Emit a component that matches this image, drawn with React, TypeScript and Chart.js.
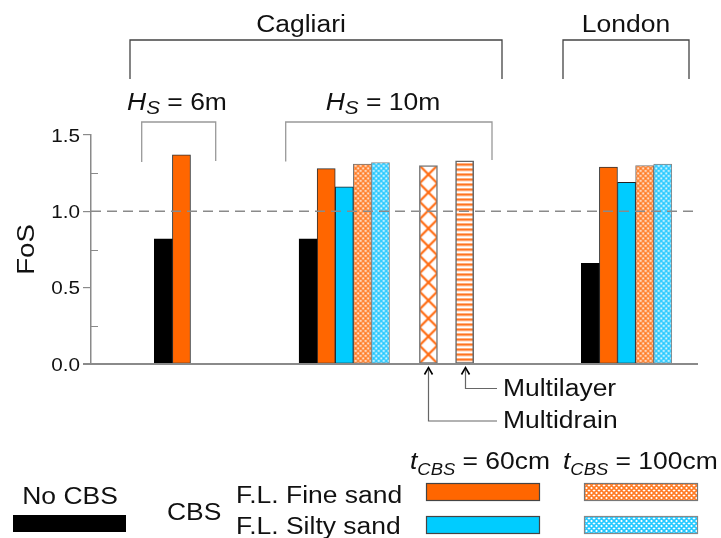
import React, { useEffect, useRef } from "react";
import { Chart, registerables } from "chart.js";

Chart.register(...registerables);

// ---- FoS values ----
// column order: No CBS, F.L. fine sand 60 cm, F.L. silty sand 60 cm,
//               F.L. fine sand 100 cm, F.L. silty sand 100 cm
const cagliariHs6 = [0.82, 1.37];
const cagliariHs10 = [0.82, 1.28, 1.16, 1.31, 1.32];
const cagliariVariants = [1.3, 1.33]; // Multidrain, Multilayer
const london = [0.66, 1.29, 1.19, 1.3, 1.31];

// bar slots on the x axis (one unit = one bar)
const slotsHs6 = [4, 5];
const slotsHs10 = [12, 13, 14, 15, 16];
const slotsVariants = [18.65, 20.65];
const slotsLondon = [27.6, 28.6, 29.6, 30.6, 31.6];
const xMax = 33.55;

const yMax = 1.5;
const yStep = 0.5;
const fosLimit = 1.0;

const variantLabels = ["Multidrain", "Multilayer"];
const seriesLabels = [
  "No CBS",
  "F.L. Fine sand 60cm",
  "F.L. Silty sand 60cm",
  "F.L. Fine sand 100cm",
  "F.L. Silty sand 100cm",
];

const FONT = '"Liberation Sans", Arial, Helvetica, sans-serif';
const STRETCH = 1.15;
const INK = "#111";
const ORANGE = "#ff6600";
const CYAN = "#00ccff";
const AXIS_GREY = "#8a8a8a";
const TXT = 23;

type Seg = { t: string; size: number; italic?: boolean; dy?: number };

function segFont(s: Seg) {
  return `${s.italic ? "italic " : ""}${s.size}px ${FONT}`;
}

function richWidth(ctx: CanvasRenderingContext2D, segs: Seg[]) {
  let w = 0;
  for (const s of segs) {
    ctx.font = segFont(s);
    w += ctx.measureText(s.t).width * STRETCH;
  }
  return w;
}

function drawRich(
  ctx: CanvasRenderingContext2D,
  segs: Seg[],
  x: number,
  baseline: number,
  align: "left" | "center" | "right" = "left",
  color = INK
) {
  const w = richWidth(ctx, segs);
  let cx = align === "center" ? x - w / 2 : align === "right" ? x - w : x;
  ctx.save();
  ctx.fillStyle = color;
  ctx.textAlign = "left";
  ctx.textBaseline = "alphabetic";
  for (const s of segs) {
    ctx.font = segFont(s);
    const sw = ctx.measureText(s.t).width;
    ctx.save();
    ctx.translate(cx, baseline + (s.dy || 0));
    ctx.scale(STRETCH, 1);
    ctx.fillText(s.t, 0, 0);
    ctx.restore();
    cx += sw * STRETCH;
  }
  ctx.restore();
}

function drawText(
  ctx: CanvasRenderingContext2D,
  text: string,
  x: number,
  baseline: number,
  size: number,
  align: "left" | "center" | "right" = "left"
) {
  drawRich(ctx, [{ t: text, size }], x, baseline, align);
}

// ---- fill patterns ----
function tile(w: number, h: number, paint: (g: CanvasRenderingContext2D) => void) {
  const c = document.createElement("canvas");
  c.width = w;
  c.height = h;
  const g = c.getContext("2d")!;
  g.fillStyle = "#fff";
  g.fillRect(0, 0, w, h);
  paint(g);
  return c;
}

function crossHatch(color: string, size: number, lineWidth: number) {
  const c = tile(size, size, (g) => {
    g.strokeStyle = color;
    g.lineWidth = lineWidth;
    g.beginPath();
    for (const k of [-1, 0, 1]) {
      g.moveTo(k * size, 0);
      g.lineTo(k * size + size, size);
      g.moveTo(k * size + size, 0);
      g.lineTo(k * size, size);
    }
    g.stroke();
  });
  return document.createElement("canvas").getContext("2d")!.createPattern(c, "repeat")!;
}

function stripes(color: string, period: number, thickness: number) {
  const c = tile(4, period, (g) => {
    g.fillStyle = color;
    g.fillRect(0, 0, 4, thickness);
  });
  return document.createElement("canvas").getContext("2d")!.createPattern(c, "repeat")!;
}

type Styles = {
  bg: (string | CanvasPattern)[];
  border: string[];
  borderWidth: number[];
};

function makeStyles(): Styles {
  return {
    bg: [
      "#000",
      ORANGE,
      CYAN,
      crossHatch("#ff7a22", 5, 1.6),
      crossHatch("#22c8ff", 5, 1.6),
      crossHatch("#ff6a10", 18, 2.2),
      stripes("#ff7420", 5, 2.4),
    ],
    border: ["#000", "#333", "#222", "#777", "#888", "#777", "#666"],
    borderWidth: [1, 1, 1, 1, 1, 1.5, 1.5],
  };
}

const groups = [
  { slots: slotsHs6, values: cagliariHs6 },
  { slots: slotsHs10, values: cagliariHs10 },
  { slots: slotsLondon, values: london },
];

function column(i: number) {
  return groups
    .filter((g) => i < g.values.length)
    .map((g) => ({ x: g.slots[i], y: g.values[i] }));
}

function buildDatasets(st: Styles) {
  const cols = seriesLabels.map((label, i) => ({ label, data: column(i) }));
  const variants = variantLabels.map((label, i) => ({
    label,
    data: [{ x: slotsVariants[i], y: cagliariVariants[i] }],
  }));
  return [...cols, ...variants].map((d, i) => ({
    ...d,
    backgroundColor: st.bg[i],
    borderColor: st.border[i],
    borderWidth: st.borderWidth[i],
  }));
}

// keep each pattern anchored to its bar's lower-left corner
const patternAnchor = {
  id: "patternAnchor",
  beforeDatasetsDraw(chart: any) {
    chart.data.datasets.forEach((_: any, i: number) => {
      chart.getDatasetMeta(i).data.forEach((el: any) => {
        const bg = el.options && el.options.backgroundColor;
        if (bg instanceof CanvasPattern) {
          bg.setTransform(new DOMMatrix([1, 0, 0, 1, el.x - el.width / 2, el.base]));
        }
      });
    });
  },
};

function bracket(
  ctx: CanvasRenderingContext2D,
  x1: number,
  x2: number,
  top: number,
  bottomL: number,
  bottomR: number,
  color: string
) {
  ctx.save();
  ctx.strokeStyle = color;
  ctx.lineWidth = 1.3;
  ctx.beginPath();
  ctx.moveTo(x1, bottomL);
  ctx.lineTo(x1, top);
  ctx.lineTo(x2, top);
  ctx.lineTo(x2, bottomR);
  ctx.stroke();
  ctx.restore();
}

function swatch(ctx: CanvasRenderingContext2D, x: number, y: number, fill: string | CanvasPattern, stroke: string) {
  ctx.save();
  if (fill instanceof CanvasPattern) fill.setTransform(new DOMMatrix([1, 0, 0, 1, x, y]));
  ctx.fillStyle = fill as any;
  ctx.fillRect(x, y, 114, 18);
  ctx.strokeStyle = stroke;
  ctx.lineWidth = 1.2;
  ctx.strokeRect(x + 0.5, y + 0.5, 113, 17);
  ctx.restore();
}

function decorations(st: Styles) {
  return {
    id: "decorations",
    afterDraw(chart: any) {
      const ctx: CanvasRenderingContext2D = chart.ctx;
      const { left, right } = chart.chartArea;
      const y = chart.scales.y;
      const y0 = y.getPixelForValue(0);

      // FoS = 1 reference line
      const yl = y.getPixelForValue(fosLimit);
      ctx.save();
      ctx.strokeStyle = AXIS_GREY;
      ctx.lineWidth = 1.5;
      ctx.setLineDash([10, 6]);
      ctx.beginPath();
      ctx.moveTo(left, yl);
      ctx.lineTo(right, yl);
      ctx.stroke();
      ctx.restore();

      // baseline
      ctx.save();
      ctx.strokeStyle = AXIS_GREY;
      ctx.lineWidth = 2;
      ctx.beginPath();
      ctx.moveTo(left - 8, y0);
      ctx.lineTo(right, y0);
      ctx.stroke();

      // minor ticks (inward) between major ticks
      ctx.lineWidth = 1.2;
      const ticks = y.ticks.map((t: any) => t.value);
      ctx.beginPath();
      for (let i = 0; i < ticks.length - 1; i++) {
        const py = Math.round(y.getPixelForValue((ticks[i] + ticks[i + 1]) / 2)) + 0.5;
        ctx.moveTo(left, py);
        ctx.lineTo(left + 7, py);
      }
      ctx.stroke();
      ctx.restore();

      // tick labels
      for (const v of ticks) {
        drawText(ctx, v.toFixed(1), left - 11, y.getPixelForValue(v) + 6.5, 18, "right");
      }

      // axis title
      ctx.save();
      ctx.translate(34, (chart.chartArea.top + chart.chartArea.bottom) / 2);
      ctx.rotate(-Math.PI / 2);
      drawText(ctx, "FoS", 0, 0, 24, "center");
      ctx.restore();

      // site and wave-height brackets
      bracket(ctx, 130, 502, 40, 79, 79, "#444");
      bracket(ctx, 563, 689, 40, 79, 79, "#444");
      bracket(ctx, 141.7, 215.7, 122, 162, 161, "#999");
      bracket(ctx, 285.7, 492, 122, 161.5, 160, "#999");
      drawText(ctx, "Cagliari", 301, 32, TXT, "center");
      drawText(ctx, "London", 626, 32, TXT, "center");
      const hs = (v: string): Seg[] => [
        { t: "H", size: TXT, italic: true },
        { t: "S", size: 18, italic: true, dy: 4 },
        { t: ` = ${v}`, size: TXT },
      ];
      drawRich(ctx, hs("6m"), 177, 110, "center");
      drawRich(ctx, hs("10m"), 383, 110, "center");

      // call-outs for the two drainage variants
      const n = seriesLabels.length;
      const tip = y0 + 3.5;
      const elbows = [421, 388.5];
      variantLabels.forEach((label, i) => {
        const el = chart.getDatasetMeta(n + i).data[0];
        const x = Math.round(el.x) + 0.5;
        ctx.save();
        ctx.strokeStyle = "#666";
        ctx.lineWidth = 1.2;
        ctx.beginPath();
        ctx.moveTo(x, tip + 2);
        ctx.lineTo(x, elbows[i]);
        ctx.lineTo(497, elbows[i]);
        ctx.stroke();
        ctx.strokeStyle = "#000";
        ctx.lineWidth = 1.6;
        ctx.beginPath();
        ctx.moveTo(x - 4, tip + 7);
        ctx.lineTo(x, tip);
        ctx.lineTo(x + 4, tip + 7);
        ctx.stroke();
        ctx.restore();
        drawText(ctx, label, 503, elbows[i] + 7, TXT, "left");
      });

      // legend
      drawText(ctx, "No CBS", 70, 504, TXT, "center");
      ctx.fillStyle = "#000";
      ctx.fillRect(13, 515, 113, 17);
      drawText(ctx, "CBS", 167, 520, TXT, "left");
      drawText(ctx, "F.L. Fine sand", 236, 503, TXT, "left");
      drawText(ctx, "F.L. Silty sand", 236, 534, TXT, "left");
      const th = (v: string): Seg[] => [
        { t: "t", size: TXT, italic: true },
        { t: "CBS", size: 16, italic: true, dy: 6 },
        { t: ` = ${v}`, size: TXT },
      ];
      drawRich(ctx, th("60cm"), 410, 469, "left");
      drawRich(ctx, th("100cm"), 563, 469, "left");
      swatch(ctx, 426, 483, st.bg[1], "#444");
      swatch(ctx, 426, 516, st.bg[2], "#444");
      swatch(ctx, 584, 483, st.bg[3], "#777");
      swatch(ctx, 584, 516, st.bg[4], "#888");
    },
  };
}

export default function App() {
  const ref = useRef<HTMLCanvasElement>(null);

  useEffect(() => {
    const canvas = ref.current!;
    const st = makeStyles();
    const chart = new Chart(canvas, {
      type: "bar",
      data: { datasets: buildDatasets(st) as any },
      options: {
        responsive: false,
        animation: false,
        devicePixelRatio: 1,
        layout: { padding: { top: 135, bottom: 174, left: 0, right: 23 } },
        plugins: { legend: { display: false }, tooltip: { enabled: false } },
        datasets: {
          bar: {
            grouped: false,
            barPercentage: 1,
            categoryPercentage: 1,
            borderSkipped: false,
          } as any,
        },
        scales: {
          x: {
            type: "linear",
            min: 0,
            max: xMax,
            offset: false,
            display: false,
            ticks: { stepSize: 5 },
          },
          y: {
            min: 0,
            max: yMax,
            ticks: { stepSize: yStep, display: false },
            grid: {
              drawOnChartArea: false,
              drawTicks: true,
              tickLength: 8,
              color: AXIS_GREY,
              lineWidth: 1.2,
            },
            border: { display: true, color: AXIS_GREY, width: 1.5 },
            afterFit: (scale: any) => {
              scale.width = 91;
            },
          },
        },
      },
      plugins: [patternAnchor, decorations(st)],
    });
    return () => chart.destroy();
  }, []);

  return (
    <div
      style={{
        position: "absolute",
        left: 0,
        top: 0,
        width: 721,
        height: 538,
        background: "#fff",
      }}
    >
      <canvas ref={ref} width={721} height={538} style={{ display: "block" }} />
    </div>
  );
}
